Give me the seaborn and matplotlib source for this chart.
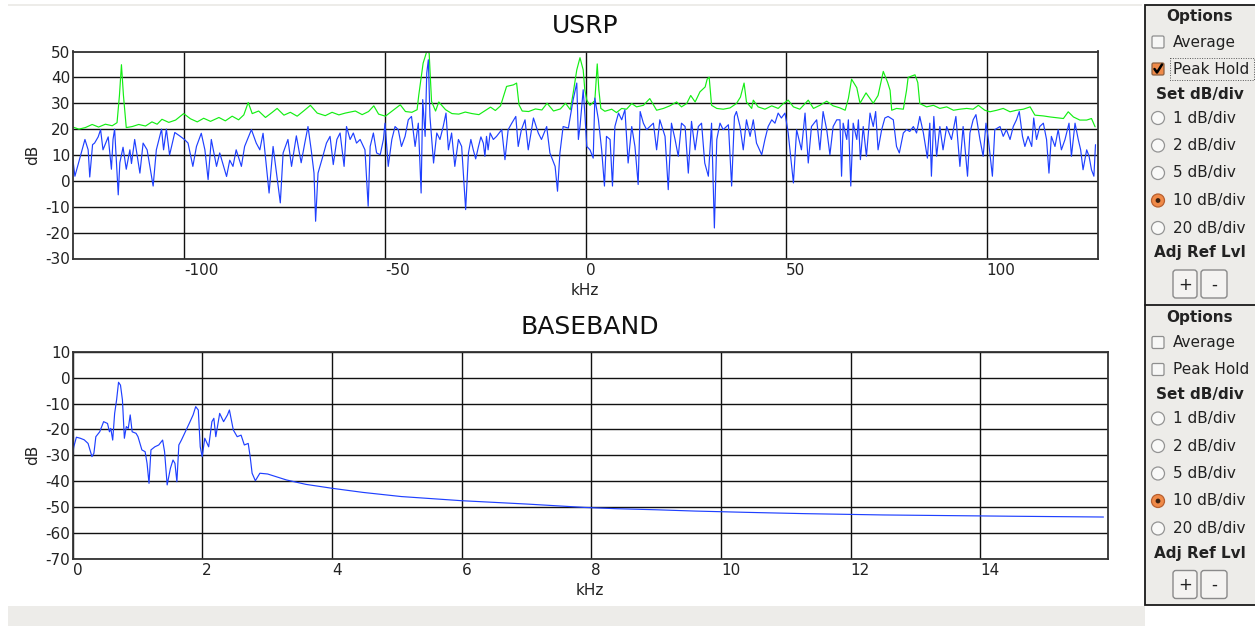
import numpy as np
import pandas as pd
import matplotlib

matplotlib.use('Agg')
import matplotlib.pyplot as plt
import matplotlib.patches as patches
import seaborn as sns

# ---- data (kHz, dB) ----
# USRP live spectrum (blue)
usrp_live_khz = [
    -128.0, -127.3, -124.8, -124.0, -123.6, -122.9, -122.4, -121.5, -120.9, -120.3,
    -119.0, -118.2, -117.8, -117.4, -116.5, -116.1, -115.3, -114.5, -113.6, -113.2,
    -112.4, -111.1, -110.3, -109.3, -107.8, -107.0, -105.7, -105.2, -104.5, -103.7,
    -102.4, -101.2, -100.0, -99.1, -97.9, -97.0, -95.8, -94.9, -94.1, -93.3,
    -92.0, -91.2, -89.5, -88.7, -87.9, -87.1, -85.8, -85.0, -83.3, -82.1,
    -81.2, -80.4, -78.9, -77.9, -76.1, -75.4, -74.2, -73.3, -72.1, -70.9,
    -70.0, -69.2, -68.4, -67.7, -67.3, -66.7, -65.5, -64.6,
    -63.7, -62.9, -62.0, -61.2, -60.2, -59.6, -58.7, -57.9, -57.1, -56.2,
    -55.0, -54.2, -53.7, -52.9, -52.1, -51.2, -50.4, -50.0, -49.2, -48.3,
    -47.5, -46.7, -45.9, -45.0, -44.2, -43.4, -42.5, -41.7, -41.0, -40.6,
    -40.0, -39.6, -39.2, -38.8, -37.9, -37.1, -36.3, -35.5, -34.8, -34.2,
    -33.4, -32.6, -31.7, -30.9, -29.9, -29.2, -28.6, -28.0, -27.4, -26.7,
    -26.1, -25.5, -25.1, -24.7, -24.3,
    -23.8, -23.0, -22.2, -20.9, -20.1, -19.3, -18.4, -17.4, -16.8, -16.0,
    -15.1, -14.3, -13.0, -11.8, -11.0, -9.7, -8.9, -7.6, -7.0, -6.4,
    -5.6, -4.3, -3.1, -2.2, -1.8, -1.4, -0.6, -0.2,
    0.3, 1.1, 1.9, 2.3, 3.2, 4.0, 4.7, 5.2, 6.1, 6.7,
    7.3, 8.2, 9.0, 9.8, 10.6, 11.5, 12.3, 13.1, 13.6, 14.4,
    15.2, 16.0, 16.9, 17.7, 18.5, 19.8, 20.6, 21.4, 22.3, 23.1,
    23.9, 24.8, 25.6, 26.4, 27.3, 28.1, 28.9, 29.7, 30.6, 31.4,
    32.1, 32.7, 33.5, 34.3, 35.6, 36.4, 37.1, 37.6, 38.5, 39.3,
    40.1, 41.0, 41.8, 42.6, 43.9, 44.7, 45.5, 46.4, 47.2, 48.0,
    48.8, 49.7, 50.5, 51.8, 52.6, 53.8, 54.7, 55.5, 56.3, 57.6,
    58.4, 59.2, 60.1, 60.9, 61.7, 62.6,
    63.4, 63.8, 64.2, 65.1, 65.5, 66.1, 66.7, 67.6, 68.0, 68.5,
    69.2, 70.0, 70.9, 71.7, 72.3, 72.9, 73.8, 74.6, 75.4, 76.7,
    77.5, 78.2, 79.2, 80.0, 80.8, 81.7, 82.5, 83.3, 84.2, 85.2,
    85.8, 86.2, 86.8, 87.5, 88.3, 89.1, 90.0, 91.2, 92.3, 93.3,
    94.1, 95.2, 95.8, 96.6, 97.3, 98.3, 99.1, 99.8, 100.4, 101.4,
    102.0, 103.3, 104.1, 104.9, 105.8, 106.6, 107.4, 108.1, 108.9, 109.5,
    110.3, 111.2, 111.7, 112.4, 113.2, 114.1, 114.9, 115.5, 116.1, 117.0,
    117.8, 118.6, 119.5, 120.5, 121.1, 122.0, 122.8, 123.4, 124.0, 124.9,
    125.5, 126.1, 126.7, 127.1,
]
usrp_live_db = [
    10.8, 1.8, 16, 12, 1.5, 14, 14.6, 17, 19.8, 12,
    17, 4.5, 16, 20, -5.4, 7, 13, 4.5, 12, 6.7,
    16, 3, 14.6, 12, -2, 12, 20, 12, 20, 10,
    18.7, 17.4, 16, 14.6, 5.6, 13.3, 18.4, 12, 0.5, 16,
    5.6, 10.8, 1.7, 8, 5.6, 12, 5.6, 13.3, 19.8, 14.6,
    12, 18.4, -4.7, 13.3, -8.5, 10.8, 16, 5.6, 17.4, 7,
    14.6, 21, 12, 3, -15.6, 3, 9.5, 14.6,
    17.2, 6.3, 16, 18.5, 5.6, 21, 16, 18.5, 14.6, 16,
    12, -9.8, 13.3, 18.5, 10.8, 10.1, 16, 22.3, 5.6, 16,
    21, 19.8, 13.3, 17.2, 23.6, 24.9, 13.3, 22.3, -4.7, 31.4,
    17.2, 41.6, 46.8, 24.9, 6.9, 18.5, 16, 21, 26.2, 12,
    18.5, 5.6, 16, 13.3, -11.1, 10.8, 16, 12, 8.5, 13.3,
    17, 14.6, 9.5, 17.2, 12,
    18.5, 16, 17.2, 19.8, 8.2, 19.8, 22.3, 24.9, 13.3, 19.8,
    23.6, 12, 24.3, 18.5, 16, 21, 10.8, 5.6, -4, 10.8,
    21, 20.4, 31.4, 37.8, 16, 21, 35.2, 26.2,
    13.3, 12, 8.8, 32, 23.6, 12, -2, 17.2, 16, -2,
    21, 26.2, 23.6, 27.5, 6.9, 21, 13.3, -1.4, 26.8, 22.3,
    19.8, 21, 22.3, 12, 23.6, 17.2, -3.4, 22.3, 16, 9.5,
    22.3, 21, 3, 23, 12, 21, 22.3, 6.9, 1.8, 22.3,
    -18.2, 16, 22.3, 19.8, 21.7, -2, 24.9, 26.8, 21, 12,
    23.6, 17.2, 23.6, 14.6, 10.1, 16, 21, 23.6, 22.3, 26.2,
    24.3, 26.2, 18.5, -0.8, 19.8, 12, 26.2, 6.9, 21, 23.6,
    12, 26.8, 19.8, 10.1, 21, 23.6,
    23.6, 1.8, 22.3, 16, 23.6, -2, 22.3, 16, 23.6, 8.2,
    21, 9.5, 26.2, 21, 26.8, 12, 19.8, 24.3, 24.9, 23.6,
    13.3, 10.8, 18.5, 19.8, 19.1, 21, 18.5, 24.9, 18.5, 8.8,
    22.3, 1.8, 24.9, 9.5, 21, 12, 21, 16, 24.9, 5.6,
    21, 1.8, 18.5, 23.6, 25.6, 16, 9.5, 22.3, 16, 1.8,
    19.8, 21, 17.2, 19.8, 16, 21, 23.6, 26.8, 17.2, 13.3,
    17.2, 13.3, 24.3, 16, 21, 22.3, 16, 3, 17.2, 13.3,
    19.8, 12, 16, 22.3, 9.5, 22.3, 16, 12, 4.3, 12,
    9.5, 4.3, 1.8, 14,
]

# USRP peak hold (green)
usrp_peak_khz = [
    -128.0, -126.3, -124.7, -123.0, -121.4, -119.7, -118.0, -116.8, -116.2, -115.7,
    -115.2, -114.5, -113.0, -111.4, -109.7, -108.1, -106.8, -105.6, -103.9, -102.2,
    -100.2, -98.5, -96.8, -95.2, -93.5, -91.4, -89.8, -88.1, -86.5, -85.2,
    -84.1, -83.1, -81.5, -79.8, -78.1, -76.9, -75.2, -73.6, -71.9, -70.3,
    -68.6, -66.9, -64.9, -63.2, -61.5, -59.9, -57.4, -55.7, -54.1, -52.8,
    -51.6, -49.9, -48.2, -46.2, -44.9, -43.3, -42.0, -41.6, -40.5, -39.6,
    -39.0, -38.4, -37.4, -36.6, -34.9, -33.3, -31.6, -30.0, -28.3, -26.6,
    -25.0, -23.7, -22.5, -21.2, -20.6, -19.7, -18.0, -17.2, -16.6, -15.8,
    -14.2, -12.5, -10.9, -9.6, -8.0, -6.3, -5.0, -3.8, -3.1, -2.2,
    -1.4, -0.6, -0.2, 0.3, 1.1, 2.3, 2.9, 3.3, 3.8, 4.8,
    6.5, 7.7, 9.0, 10.2, 11.5, 12.7, 14.4, 16.0, 17.7, 19.4,
    21.0, 22.7, 23.9, 25.2, 26.2, 27.3, 28.5, 29.8, 30.3, 30.8,
    31.4, 32.7, 34.3, 36.0, 37.6, 38.6, 39.5, 40.1, 41.4, 41.8,
    43.0, 44.7, 46.4, 48.0, 49.3, 50.5, 51.8, 53.4, 55.5, 56.8,
    58.4, 60.1, 61.7, 63.4, 64.7, 65.5, 66.3, 67.6, 68.4, 69.9,
    71.7, 72.9, 74.2, 75.3, 75.9, 76.3, 77.5, 79.2, 80.0, 80.4,
    82.1, 82.8, 83.3, 85.0, 86.7, 88.3, 90.0, 91.7, 93.3, 95.0,
    96.6, 97.9, 99.5, 100.8, 102.5, 104.1, 105.8, 107.4, 109.1, 110.8,
    112.0, 114.1, 115.8, 117.4, 119.1, 120.3, 121.6, 123.2, 124.9, 126.1,
    127.0,
]
usrp_peak_db = [
    20.9, 20.0, 20.6, 21.8, 20.8, 21.9, 21.3, 22.5, 33.0, 44.9,
    33.0, 20.6, 21.0, 21.8, 21.2, 22.8, 21.9, 23.8, 22.6, 23.5,
    26.0, 24.0, 22.8, 24.2, 23.0, 24.5, 23.2, 25.0, 23.6, 25.5,
    30.3, 26.0, 27.0, 24.5, 26.5, 28.0, 25.4, 26.5, 25.0, 27.0,
    29.2, 26.2, 25.2, 26.5, 25.5, 26.2, 27.0, 25.6, 26.8, 29.0,
    25.8, 25.0, 27.0, 29.4, 26.8, 26.5, 27.5, 33.0, 45.5, 50.0,
    49.4, 30.7, 27.0, 30.5, 27.5, 26.0, 25.8, 26.6, 26.0, 25.6,
    27.2, 28.5, 27.2, 29.0, 32.0, 36.5, 37.1, 37.8, 29.4, 27.0,
    26.8, 27.8, 27.4, 30.0, 27.0, 27.8, 30.0, 27.5, 33.9, 42.9,
    47.6, 42.9, 35.2, 31.2, 29.2, 31.0, 45.2, 35.2, 28.0, 26.9,
    27.7, 26.4, 28.0, 27.7, 29.9, 28.6, 29.2, 31.8, 27.3, 28.0,
    29.0, 30.5, 28.6, 29.9, 33.0, 30.5, 34.4, 36.3, 39.3, 40.1,
    29.2, 28.0, 27.7, 28.2, 29.9, 32.4, 37.8, 30.5, 28.0, 31.2,
    28.6, 27.7, 29.0, 28.0, 29.9, 31.2, 28.6, 27.7, 31.2, 28.0,
    29.2, 30.8, 29.0, 28.2, 27.3, 31.8, 39.3, 36.0, 30.0, 34.0,
    30.0, 33.0, 42.3, 38.0, 35.0, 27.3, 28.0, 27.7, 35.0, 40.0,
    41.0, 38.0, 29.9, 28.6, 29.2, 28.0, 28.6, 27.3, 27.7, 28.0,
    27.7, 29.2, 27.3, 26.7, 27.3, 28.0, 26.7, 27.3, 27.7, 28.6,
    25.4, 25.1, 24.7, 24.4, 24.1, 26.7, 24.7, 23.5, 23.5, 24.1,
    20.9,
]

# BASEBAND spectrum (blue)
base_khz = [
    0.00, 0.02, 0.06, 0.12, 0.18, 0.24, 0.30, 0.33, 0.36, 0.42,
    0.48, 0.54, 0.57, 0.59, 0.62, 0.65, 0.68, 0.71, 0.74, 0.77,
    0.80, 0.83, 0.86, 0.89, 0.92, 0.98, 1.01, 1.07, 1.12, 1.15,
    1.18, 1.21, 1.27, 1.33, 1.39, 1.42, 1.46, 1.51, 1.55, 1.58,
    1.61, 1.64, 1.68, 1.74, 1.80, 1.86, 1.90, 1.94, 1.97, 2.00,
    2.04, 2.10, 2.15, 2.18, 2.21, 2.27, 2.33, 2.39, 2.42, 2.48,
    2.54, 2.60, 2.65, 2.71, 2.74, 2.77, 2.82, 2.89, 3.01, 3.30,
    3.60, 4.00, 4.48, 5.07, 6.00, 7.01, 7.90, 8.40, 9.00, 9.60,
    10.40, 11.30, 12.50, 14.50, 15.90,
]
base_db = [
    -29.9, -26.7, -23.0, -23.4, -24.0, -25.4, -30.5, -29.2, -22.8, -20.9,
    -17.0, -17.7, -20.9, -19.6, -24.1, -13.8, -8.6, -1.8, -2.9, -8.6,
    -23.4, -18.9, -19.6, -14.4, -20.9, -21.5, -22.8, -27.9, -28.6, -33.1,
    -40.8, -27.9, -26.7, -26.0, -24.1, -28.6, -41.4, -35.0, -31.8, -33.1,
    -40.2, -26.0, -24.1, -20.9, -17.7, -14.4, -11.2, -12.5, -26.7, -30.5,
    -23.4, -26.7, -17.0, -15.7, -22.8, -13.8, -17.0, -14.4, -12.5, -20.2,
    -22.8, -22.2, -26.0, -25.4, -30.5, -36.9, -39.8, -36.9, -37.2, -39.5,
    -41.2, -42.7, -44.3, -45.9, -47.5, -48.8, -50.1, -50.6, -51.0, -51.5,
    -52.0, -52.5, -53.0, -53.5, -53.8,
]

usrp_xticks = [-100, -50, 0, 50, 100]
usrp_yticks = [-30, -20, -10, 0, 10, 20, 30, 40, 50]
base_xticks = [0, 2, 4, 6, 8, 10, 12, 14]
base_yticks = [-70, -60, -50, -40, -30, -20, -10, 0, 10]

option_rows = ['Average', 'Peak Hold']
div_labels = ['1 dB/div', '2 dB/div', '5 dB/div', '10 dB/div', '20 dB/div']

assert len(usrp_live_khz) == len(usrp_live_db)
assert len(usrp_peak_khz) == len(usrp_peak_db)
assert len(base_khz) == len(base_db)

# ---- figure ----
sns.set_style('white')
plt.rcParams['font.family'] = ['DejaVu Sans']
plt.rcParams['axes.unicode_minus'] = False

W, H = 1255, 626
fig = plt.figure(figsize=(W / 100, H / 100), dpi=100)
fig.patch.set_facecolor('white')

BLUE = '#1f40ff'
GREEN = '#14ee14'


def style_axes(ax, xticks, yticks):
    ax.set_xticks(xticks)
    ax.set_yticks(yticks)
    ax.set_xticklabels([str(t) for t in xticks])
    ax.set_yticklabels([str(t) for t in yticks])
    for lab in ax.get_xticklabels():
        lab.set_ha('left')
    ax.tick_params(axis='both', length=0, labelsize=11, colors='#222222')
    ax.tick_params(axis='x', pad=3)
    ax.tick_params(axis='y', pad=1.5)
    ax.grid(True, color='#111111', linewidth=1.0)
    ax.set_axisbelow(True)
    for sp in ax.spines.values():
        sp.set_color('#333333')
        sp.set_linewidth(1.3)
    ax.set_xlabel('kHz', fontsize=11, color='#222222')
    ax.set_ylabel('dB', fontsize=11, color='#222222')
    ax.xaxis.set_label_coords(0.5, -0.118)
    ax.yaxis.set_label_coords(-0.0317, 0.5)


# USRP panel
ax1 = fig.add_axes([72.5 / W, 1 - 258.5 / H, 1025 / W, 207 / H])
peak_df = pd.DataFrame({'kHz': usrp_peak_khz, 'dB': usrp_peak_db})
live_df = pd.DataFrame({'kHz': usrp_live_khz, 'dB': usrp_live_db})
sns.lineplot(data=peak_df, x='kHz', y='dB', ax=ax1, color=GREEN,
             linewidth=0.85, estimator=None, sort=False)
sns.lineplot(data=live_df, x='kHz', y='dB', ax=ax1, color=BLUE,
             linewidth=0.85, estimator=None, sort=False)
ax1.set_xlim(-127.9, 127.6)
ax1.set_ylim(-30, 50)
style_axes(ax1, usrp_xticks, usrp_yticks)
ax1.set_title('USRP', fontsize=18, pad=13, color='#111111')

# BASEBAND panel
ax2 = fig.add_axes([72.5 / W, 1 - 559 / H, 1035.5 / W, 207.3 / H])
base_df = pd.DataFrame({'kHz': base_khz, 'dB': base_db})
sns.lineplot(data=base_df, x='kHz', y='dB', ax=ax2, color=BLUE,
             linewidth=0.85, estimator=None, sort=False)
ax2.set_xlim(0, 15.97)
ax2.set_ylim(-70, 10)
style_axes(ax2, base_xticks, base_yticks)
ax2.yaxis.set_label_coords(-0.0314, 0.5)
ax2.set_title('BASEBAND', fontsize=18, pad=12.7, color='#111111')

# ---- window chrome and option panels, drawn in pixel coords ----
ui = fig.add_axes([0, 0, 1, 1], zorder=5)
ui.set_xlim(0, W)
ui.set_ylim(H, 0)
ui.axis('off')
ui.patch.set_alpha(0)

PANEL_BG = '#edece9'
ui.add_patch(patches.Rectangle((8, 606), 1137, 22, facecolor=PANEL_BG, edgecolor='none'))
ui.add_patch(patches.Rectangle((8, 3.5), 1134, 2.5, facecolor=PANEL_BG, edgecolor='none'))
ui.add_patch(patches.Rectangle((1145, 5), 115, 600, facecolor=PANEL_BG,
                               edgecolor='#1a1a1a', linewidth=1.3))
ui.plot([1145, 1260], [305, 305], color='#1a1a1a', linewidth=1.3)


def checkbox(x, y, checked):
    ui.add_patch(patches.FancyBboxPatch((x - 6, y - 6), 12, 12,
                                        boxstyle='round,pad=0,rounding_size=1.5',
                                        facecolor='#f08a48' if checked else '#f7f7f6',
                                        edgecolor='#8c6040' if checked else '#8e8e8e',
                                        linewidth=0.9))
    if checked:
        ui.plot([x - 3.5, x - 1, x + 4], [y, y + 3.5, y - 4.5], color='black',
                linewidth=1.8, solid_capstyle='round')


def radio(x, y, selected):
    if selected:
        ui.add_patch(patches.Circle((x, y), 6.5, facecolor='#f08a48',
                                    edgecolor='#b86030', linewidth=0.9))
        ui.add_patch(patches.Circle((x, y), 2.4, facecolor='#3a2010', edgecolor='none'))
    else:
        ui.add_patch(patches.Circle((x, y), 6.5, facecolor='#f9f9f8',
                                    edgecolor='#949494', linewidth=0.9))


def button(x, y, w, h, label):
    ui.add_patch(patches.FancyBboxPatch((x, y), w, h,
                                        boxstyle='round,pad=0,rounding_size=3',
                                        facecolor='#f4f3f1', edgecolor='#8a8a8a',
                                        linewidth=1.0))
    ui.text(x + w / 2, y + h / 2 + 0.5, label, ha='center', va='center',
            fontsize=12, color='#222222')


def options_panel(oy, peak_checked):
    ui.text(1199.5, 17 + oy, 'Options', ha='center', va='center',
            fontsize=11, fontweight='bold', color='#222222')
    for i, lab in enumerate(option_rows):
        yy = 42 + 27 * i + oy
        checkbox(1158, yy, peak_checked and lab == 'Peak Hold')
        ui.text(1173, yy, lab, ha='left', va='center', fontsize=11, color='#222222')
    if peak_checked:
        ui.add_patch(patches.Rectangle((1169.5, 58), 84, 22, facecolor='none',
                                       edgecolor='#555555', linewidth=0.7,
                                       linestyle=(0, (1, 1.5))))
    ui.text(1199.5, 94 + oy, 'Set dB/div', ha='center', va='center',
            fontsize=11, fontweight='bold', color='#222222')
    for i, lab in enumerate(div_labels):
        yy = 118 + 27.5 * i + oy
        radio(1158, yy, lab == '10 dB/div')
        ui.text(1173, yy, lab, ha='left', va='center', fontsize=11, color='#222222')
    ui.text(1199.5, 253 + oy, 'Adj Ref Lvl', ha='center', va='center',
            fontsize=11, fontweight='bold', color='#222222')
    button(1173, 270 + oy, 24, 28, '+')
    button(1201, 270 + oy, 26, 28, '-')


options_panel(0, True)
options_panel(300.5, False)

fig.savefig('out.png', dpi=100, facecolor=fig.get_facecolor())
plt.close(fig)
